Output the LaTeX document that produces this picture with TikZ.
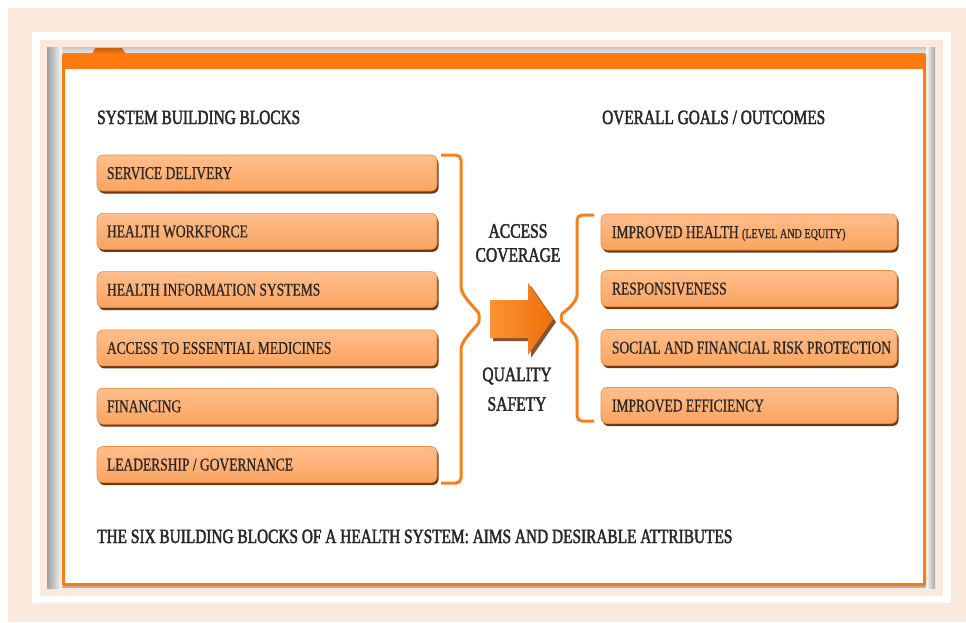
\documentclass[tikz,border=0pt]{standalone}
\usepackage{fontspec}
\setmainfont{Liberation Serif}[FakeStretch=0.75,FakeBold=0.6]
\newfontfamily\semib{Liberation Serif}[FakeStretch=0.76,FakeBold=2]
\usetikzlibrary{shadows}
\definecolor{peach}{RGB}{252,233,221}
\definecolor{orangeP}{RGB}{255,122,16}
\definecolor{tabc}{RGB}{200,96,16}
\definecolor{brkc}{RGB}{246,128,30}
\definecolor{boxTop}{RGB}{255,190,140}
\definecolor{boxBot}{RGB}{250,164,96}
\definecolor{boxBorder}{RGB}{236,140,66}
\definecolor{boxShadow}{RGB}{112,56,16}
\definecolor{textc}{RGB}{42,38,36}
\definecolor{arrowA}{RGB}{252,146,50}
\definecolor{arrowB}{RGB}{240,112,12}
\tikzset{
  blockbox/.style={rounded corners=6pt, inner xsep=10pt, inner ysep=0pt,
    minimum height=36pt, text height=12pt, text depth=0pt,
    font=\fontsize{18}{20}\selectfont, text=textc,
    top color=boxTop, bottom color=boxBot, draw=boxBorder, line width=0.6pt,
    drop shadow={shadow xshift=1.5pt, shadow yshift=-2.5pt, fill=boxShadow, opacity=1}},
  goalbox/.style={blockbox, inner xsep=11pt},
  headtxt/.style={anchor=base west, inner sep=0pt, text=textc, font=\semib\fontsize{20.2}{22}\selectfont},
  midtxt/.style={inner sep=0pt, text=textc, font=\semib\fontsize{20.5}{22}\selectfont},
  brace/.style={draw=brkc, line width=3pt, rounded corners=5pt}
}
\begin{document}
\begin{tikzpicture}[x=1pt,y=-1pt]
\useasboundingbox (0,0) rectangle (966,622);
% frames
\fill[peach] (8,8) rectangle (966,622);
\fill[white] (32,32) rectangle (951,603);
\fill[peach] (40,40) rectangle (943,596);
\shade[left color=gray!75, right color=gray!5] (47,47) rectangle (62,588);
\shade[left color=gray!5, right color=gray!70] (926,47) rectangle (935,588);
\shade[top color=gray!45, bottom color=gray!20] (62,47) rectangle (926,53);
\fill[gray!60] (62,586) rectangle (926,588);
% orange panel
\fill[orangeP, rounded corners=2pt] (62,53) rectangle (926,586);
\fill[white] (65,69) rectangle (923,583);
\shade[top color=tabc, bottom color=orangeP] (92,54) -- (95,48) -- (122,48) -- (126,54) -- cycle;
% headings
\node[headtxt] (h1) at (97,124) {SYSTEM BUILDING BLOCKS};
\node[headtxt] (h2) at (602,124) {OVERALL GOALS / OUTCOMES};
\node[headtxt] (cap) at (97,543) {THE SIX BUILDING BLOCKS OF A HEALTH SYSTEM: AIMS AND DESIRABLE ATTRIBUTES};
% building blocks
\node[blockbox] (b1) at (267,173) {\makebox[320pt][l]{SERVICE DELIVERY}};
\node[blockbox] (b2) at (267,231.3) {\makebox[320pt][l]{HEALTH WORKFORCE}};
\node[blockbox] (b3) at (267,289.6) {\makebox[320pt][l]{HEALTH INFORMATION SYSTEMS}};
\node[blockbox] (b4) at (267,347.9) {\makebox[320pt][l]{ACCESS TO ESSENTIAL MEDICINES}};
\node[blockbox] (b5) at (267,406.2) {\makebox[320pt][l]{FINANCING}};
\node[blockbox] (b6) at (267,464.5) {\makebox[320pt][l]{LEADERSHIP / GOVERNANCE}};
% goals
\node[goalbox] (g1) at (749,232) {\makebox[274pt][l]{IMPROVED HEALTH {\fontsize{13.5}{14}\selectfont(LEVEL AND EQUITY)}}};
\node[goalbox] (g2) at (749,288.5) {\makebox[274pt][l]{RESPONSIVENESS}};
\node[goalbox] (g3) at (749,347.5) {\makebox[274pt][l]{SOCIAL AND FINANCIAL RISK PROTECTION}};
\node[goalbox] (g4) at (749,405.5) {\makebox[274pt][l]{IMPROVED EFFICIENCY}};
% braces
\draw[brace] (441,155) -- (461,155) -- (461,282)
  .. controls (461,296) and (478,311) .. (480,318)
  .. controls (478,325) and (461,340) .. (461,354)
  -- (461,483) -- (441,483);
\draw[brace] (594,215) -- (577,215) -- (577,290)
  .. controls (577,303) and (562,314) .. (560,318)
  .. controls (562,322) and (577,333) .. (577,346)
  -- (577,421) -- (594,421);
% middle texts
\node[midtxt] (acc) at (518,231) {ACCESS};
\node[midtxt] (cov) at (518,255) {COVERAGE};
\node[midtxt] (qual) at (517,376) {QUALITY};
\node[midtxt] (saf) at (517,404) {SAFETY};
% arrow
\fill[boxShadow, opacity=0.85] (493,303) -- (531,303) -- (531,286) -- (556,322) -- (531,358) -- (531,341) -- (493,341) -- cycle;
\shade[left color=arrowA, right color=arrowB] (490,300) -- (528,300) -- (528,283) -- (553,319) -- (528,355) -- (528,338) -- (490,338) -- cycle;
\end{tikzpicture}
\end{document}
